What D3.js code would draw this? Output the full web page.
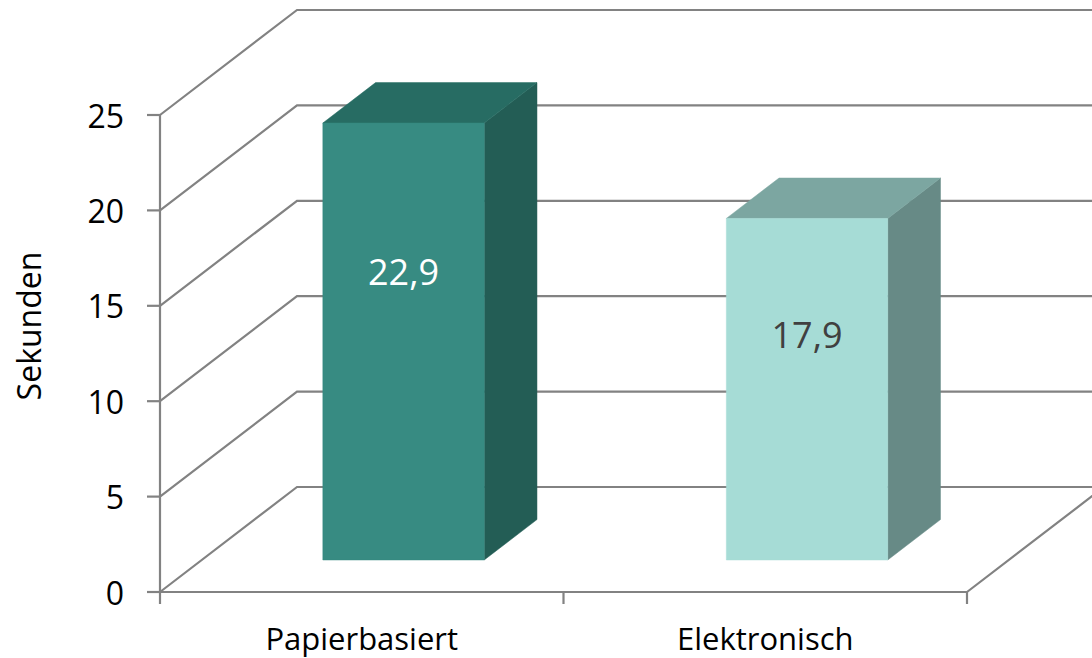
<!DOCTYPE html>
<html>
<head>
<meta charset="utf-8">
<script src="https://cdn.jsdelivr.net/npm/d3@7"></script>
<style>
  body { margin: 0; background: #fff; }
  svg { display: block; font-family: "Open Sans", sans-serif; }
</style>
</head>
<body>
<svg id="chart" width="1092" height="658"></svg>
<script>
// chart data
var categories = ["Papierbasiert", "Elektronisch"];
var values = [22.9, 17.9];
var valueLabels = ["22,9", "17,9"];
var yTicks = [0, 5, 10, 15, 20, 25];
var yTitle = "Sekunden";

// 3d look
var DX = 137, DY = -105;          // offset of the back wall
var D0 = 0.305, D1 = 0.69;        // bar depth (fraction of floor)
var gridColor = "#828282";
var faceColors = [
  { front: "#378b82", top: "#276c63", side: "#235d55", text: "#ffffff" },
  { front: "#a6dcd6", top: "#7ca6a1", side: "#678a86", text: "#404040" }
];

var svg = d3.select("#chart");

var y = d3.scaleLinear().domain([0, 25]).range([592, 115]);
var x = d3.scaleBand().domain(categories).range([160, 967]);
var xBar = d3.scaleBand().domain(categories).range([160, 967])
  .paddingInner(0.6).paddingOuter(0.3);

function p(px, v, d) {
  return [px + d * DX, y(v) + d * DY];
}
function pts(arr) {
  return arr.map(function(q) { return q.join(","); }).join(" ");
}

var grid = svg.append("g")
  .attr("fill", "none")
  .attr("stroke", gridColor)
  .attr("stroke-width", 2.2);

// back wall + left wall gridlines
yTicks.forEach(function(t) {
  grid.append("polyline")
    .attr("points", pts([p(160, t, 0), p(160, t, 1), p(967, t, 1)]));
});

// floor front edge and right edge
grid.append("polyline")
  .attr("points", pts([p(160, 0, 0), p(967, 0, 0), p(967, 0, 1)]));

// value axis line + ticks
grid.append("line")
  .attr("x1", 160).attr("x2", 160)
  .attr("y1", y(25)).attr("y2", y(0));
yTicks.forEach(function(t) {
  grid.append("line")
    .attr("x1", 147).attr("x2", 160)
    .attr("y1", y(t)).attr("y2", y(t));
});

// category ticks
var catEdges = categories.map(function(c) { return x(c); }).concat([967]);
catEdges.forEach(function(cx) {
  grid.append("line")
    .attr("x1", cx).attr("x2", cx)
    .attr("y1", y(0)).attr("y2", y(0) + 12);
});

// bars
var bars = svg.append("g");
categories.forEach(function(c, i) {
  var v = values[i], col = faceColors[i];
  var xl = xBar(c), xr = xBar(c) + xBar.bandwidth();
  var fl0 = p(xl, 0, D0), fr0 = p(xr, 0, D0), fl1 = p(xl, v, D0), fr1 = p(xr, v, D0);
  var bl1 = p(xl, v, D1), br1 = p(xr, v, D1), br0 = p(xr, 0, D1);

  bars.append("polygon").attr("points", pts([fr0, fr1, br1, br0]))
    .attr("fill", col.side).attr("stroke", col.side).attr("stroke-width", 0.5);
  bars.append("polygon").attr("points", pts([fl1, fr1, br1, bl1]))
    .attr("fill", col.top).attr("stroke", col.top).attr("stroke-width", 0.5);
  bars.append("polygon").attr("points", pts([fl0, fr0, fr1, fl1]))
    .attr("fill", col.front).attr("stroke", col.front).attr("stroke-width", 0.5);

  var cx = (fl0[0] + fr0[0]) / 2;
  var ly = p(xl, v * 0.66, D0)[1];
  bars.append("text")
    .attr("x", cx).attr("y", ly)
    .attr("text-anchor", "middle")
    .attr("dominant-baseline", "central")
    .attr("font-size", 36)
    .attr("fill", col.text)
    .text(valueLabels[i]);
});

// tick labels
svg.append("g").selectAll("text")
  .data(yTicks).enter().append("text")
  .attr("x", 124).attr("y", function(d) { return y(d); })
  .attr("text-anchor", "end")
  .attr("dominant-baseline", "central")
  .attr("font-size", 32)
  .attr("fill", "#000")
  .text(function(d) { return d; });

svg.append("g").selectAll("text")
  .data(categories).enter().append("text")
  .attr("x", function(d) { return x(d) + x.bandwidth() / 2; })
  .attr("y", 650)
  .attr("text-anchor", "middle")
  .attr("font-size", 31)
  .attr("fill", "#000")
  .text(function(d) { return d; });

svg.append("text")
  .attr("transform", "translate(41,326) rotate(-90)")
  .attr("text-anchor", "middle")
  .attr("font-size", 32)
  .attr("fill", "#000")
  .text(yTitle);
</script>
</body>
</html>
